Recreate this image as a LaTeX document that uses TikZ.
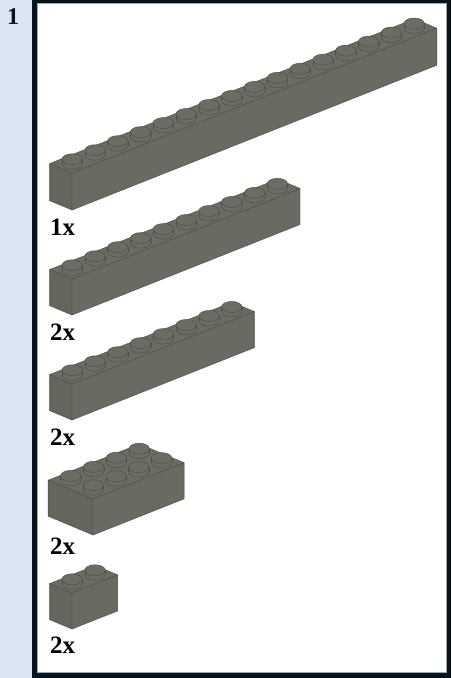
\documentclass[tikz,border=0pt]{standalone}
\usepackage{fontspec}
\setmainfont{Liberation Serif}
\definecolor{panelblue}{HTML}{DCE6F2}
\definecolor{framedark}{HTML}{04141F}
\definecolor{topface}{HTML}{6B6D64}
\definecolor{rightface}{HTML}{686B61}
\definecolor{leftface}{HTML}{63665D}
\definecolor{edgeline}{HTML}{4C4F46}
\tikzset{
  brickface/.style={draw=edgeline,line width=0.45pt,line join=round},
  studpart/.style={fill=topface,draw=edgeline,line width=0.45pt},
  qty/.style={font=\bfseries\fontsize{25}{25}\selectfont,anchor=base west,inner sep=0pt,text=black},
  stepnum/.style={font=\bfseries\fontsize{24}{24}\selectfont,anchor=base west,inner sep=0pt,text=framedark}
}
% #1,#2 front top corner; #3 studs long; #4 studs wide; #5 height
\newcommand{\legobrick}[5]{%
  \pgfmathsetmacro{\ux}{22.8}\pgfmathsetmacro{\uy}{-9.05}%
  \pgfmathsetmacro{\vx}{22.4}\pgfmathsetmacro{\vy}{9.4}%
  \coordinate (F) at (#1,#2);
  \coordinate (Fb) at (#1,#2+#5);
  \coordinate (R) at (#1+#3*\ux,#2+#3*\uy);
  \coordinate (Rb) at (#1+#3*\ux,#2+#3*\uy+#5);
  \coordinate (L) at (#1-#4*\vx,#2-#4*\vy);
  \coordinate (Lb) at (#1-#4*\vx,#2-#4*\vy+#5);
  \coordinate (B) at (#1-#4*\vx+#3*\ux,#2-#4*\vy+#3*\uy);
  \path[brickface,fill=topface] (L) -- (F) -- (R) -- (B) -- cycle;
  \path[brickface,fill=leftface] (L) -- (F) -- (Fb) -- (Lb) -- cycle;
  \path[brickface,fill=rightface] (F) -- (R) -- (Rb) -- (Fb) -- cycle;
  \foreach \j in {#4,...,1}{%
    \foreach \i in {#3,...,1}{%
      \pgfmathsetmacro{\cx}{#1+(\i-0.5)*\ux-(\j-0.5)*\vx}%
      \pgfmathsetmacro{\cy}{#2+(\i-0.5)*\uy-(\j-0.5)*\vy}%
      \draw[studpart] (\cx,\cy) ellipse [x radius=10.2,y radius=5.5];
      \fill[topface] (\cx-10.2,\cy) rectangle (\cx+10.2,\cy-4.5);
      \draw[edgeline,line width=0.45pt] (\cx-10.2,\cy) -- (\cx-10.2,\cy-4.5) (\cx+10.2,\cy) -- (\cx+10.2,\cy-4.5);
      \draw[studpart] (\cx,\cy-4.5) ellipse [x radius=10.2,y radius=5.5];
    }%
  }%
}
\begin{document}
\begin{tikzpicture}[x=1pt,y=-1pt]
\useasboundingbox (0,0) rectangle (451,678);
\fill[panelblue] (0,0) rectangle (451,678);
\fill[framedark] (32,0) rectangle (451,678);
\fill[white] (37,3.5) rectangle (446.5,672.5);
\draw[gray!70,line width=0.5pt] (37.2,3.7) rectangle (446.3,672.3);
\node[stepnum] (stepnumber) at (7,24) {1};
\legobrick{72}{173}{16}{1}{37}
\legobrick{72}{279}{10}{1}{36}
\legobrick{72}{384}{8}{1}{36}
\legobrick{93}{499}{4}{2}{36}
\legobrick{72}{593}{2}{1}{36}
\node[qty] (qtya) at (50,235) {1x};
\node[qty] (qtyb) at (50,340) {2x};
\node[qty] (qtyc) at (50,445) {2x};
\node[qty] (qtyd) at (50,554) {2x};
\node[qty] (qtye) at (50,653) {2x};
\end{tikzpicture}
\end{document}
